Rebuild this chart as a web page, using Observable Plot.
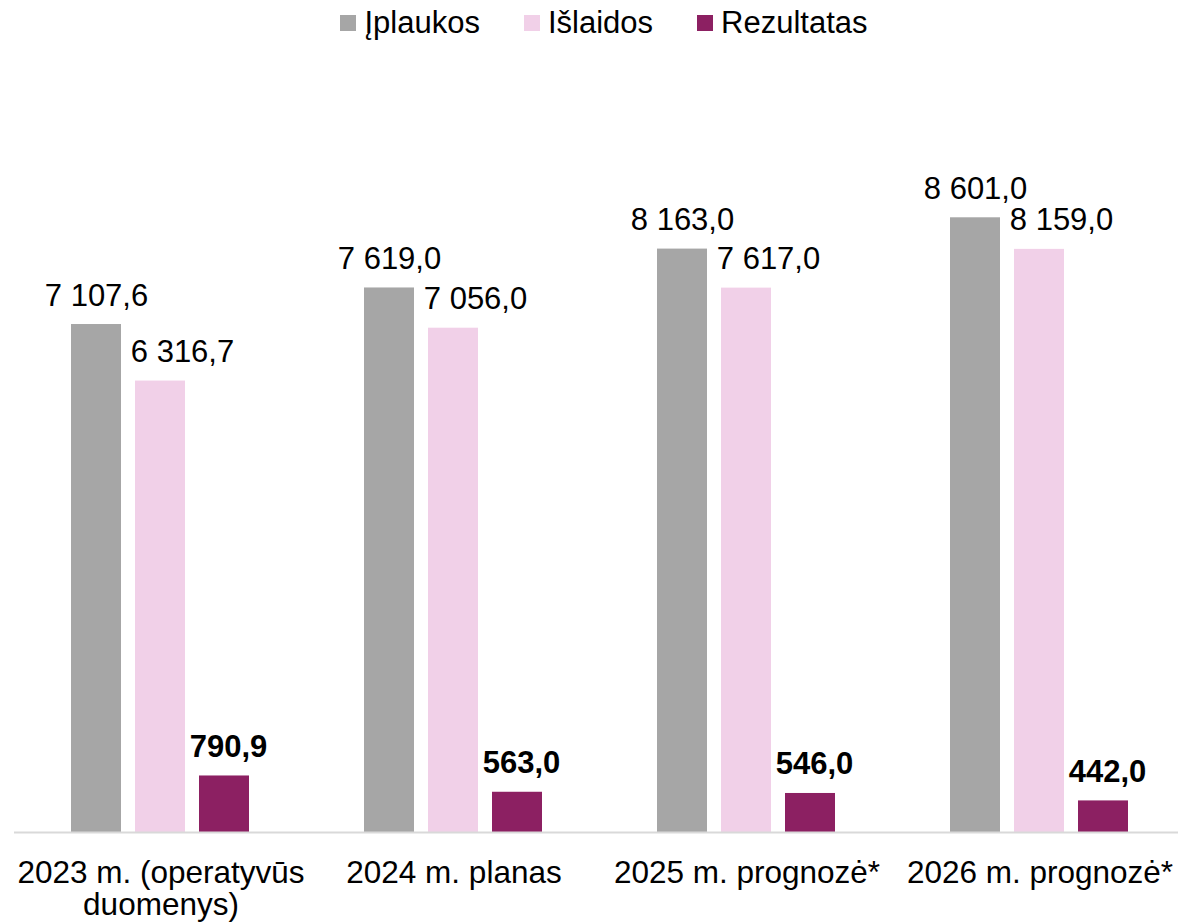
<!DOCTYPE html>
<html><head><meta charset="utf-8">
<script src="https://cdn.jsdelivr.net/npm/d3@7"></script>
<script src="https://cdn.jsdelivr.net/npm/@observablehq/plot@0.6"></script>
<style>
body{margin:0;background:#fff;font-family:"Liberation Sans",Arial,sans-serif;}
#legend{box-sizing:border-box;height:42px;padding-top:3px;display:flex;justify-content:center;align-items:center;padding-left:30px;font-size:31px;color:#000;}
#legend .item{display:flex;align-items:center;margin:0 22px;}
#legend .sw{width:16px;height:16px;margin-right:8px;}
svg{display:block}
</style></head>
<body>
<div id="legend"></div>
<div id="chart"></div>
<script>
const categories = ["2023 m. (operatyvūs\nduomenys)", "2024 m. planas", "2025 m. prognozė*", "2026 m. prognozė*"];
const series = ["Įplaukos", "Išlaidos", "Rezultatas"];
const iplaukos = [7107.6, 7619.0, 8163.0, 8601.0];
const islaidos = [6316.7, 7056.0, 7617.0, 8159.0];
const rezultatas = [790.9, 563.0, 546.0, 442.0];
const colors = ["#a6a6a6", "#f1d0e8", "#8c2062"];

const values = [iplaukos, islaidos, rezultatas];
const data = [];
categories.forEach((c, i) => series.forEach((s, j) => data.push({category: c, series: s, value: values[j][i]})));

const fmt = d3.formatLocale({decimal: ",", thousands: "\u00a0", grouping: [3], currency: ["", ""]}).format(",.1f");

const legend = document.getElementById("legend");
series.forEach((s, j) => {
  const it = document.createElement("div"); it.className = "item";
  const sw = document.createElement("div"); sw.className = "sw"; sw.style.background = colors[j];
  const t = document.createElement("span"); t.textContent = s;
  it.append(sw, t); legend.append(it);
});

const chart = Plot.plot({
  width: 1178,
  height: 882,
  marginLeft: 13,
  marginRight: 0,
  marginTop: 0,
  marginBottom: 92,
  style: {fontFamily: "'Liberation Sans', Arial, sans-serif", background: "#fff"},
  fx: {domain: categories, range: [13.5, 1186.8], padding: 0, label: null},
  x: {domain: series, paddingInner: 0.2154, paddingOuter: 0.864, axis: null},
  y: {domain: [0, 10000], range: [790, 75.3], axis: null},
  color: {domain: series, range: colors},
  marks: [
    Plot.barY(data, {fx: "category", x: "series", y: "value", fill: "series"}),
    Plot.ruleY([0], {stroke: "#d9d9d9", strokeWidth: 2}),
    Plot.text(data, {filter: d => d.series === "Įplaukos", fx: "category", x: "series", y: "value", text: d => fmt(d.value), lineAnchor: "bottom", dy: -19, fontSize: 31, fill: "#000"}),
    Plot.text(data, {filter: d => d.series === "Išlaidos", fx: "category", x: "series", y: "value", text: d => fmt(d.value), lineAnchor: "bottom", dy: -19, dx: 22, fontSize: 31, fill: "#000"}),
    Plot.text(data, {filter: d => d.series === "Rezultatas", fx: "category", x: "series", y: "value", text: d => fmt(d.value), lineAnchor: "bottom", dy: -19, dx: 4, fontSize: 31, fontWeight: "bold", fill: "#000"}),
    Plot.axisFx({anchor: "bottom", tickSize: 0, tickPadding: 27, fontSize: 31.5, lineHeight: 1.03, label: null, fill: "#000"})
  ]
});
document.getElementById("chart").append(chart);
</script>
</body></html>
